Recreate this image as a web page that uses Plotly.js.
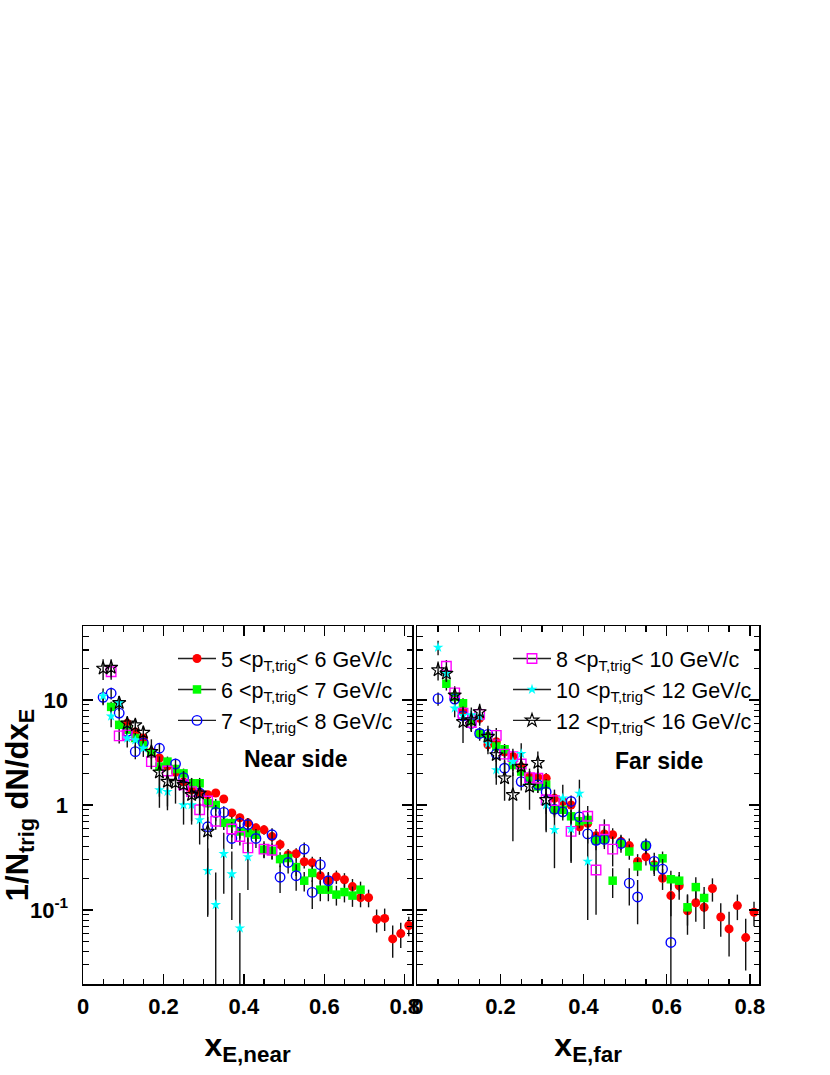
<!DOCTYPE html>
<html><head><meta charset="utf-8">
<script src="https://cdn.plot.ly/plotly-3.0.1.min.js"></script>
<style>html,body{margin:0;padding:0;background:#fff}</style>
</head><body>
<div id="chart" style="width:830px;height:1075px"></div>
<script>
// ---------------- DATA ----------------
const seriesLabels = ['5 &lt;p<sub>T,trig</sub>&lt; 6 GeV/c','6 &lt;p<sub>T,trig</sub>&lt; 7 GeV/c','7 &lt;p<sub>T,trig</sub>&lt; 8 GeV/c',
  '8 &lt;p<sub>T,trig</sub>&lt; 10 GeV/c','10 &lt;p<sub>T,trig</sub>&lt; 12 GeV/c','12 &lt;p<sub>T,trig</sub>&lt; 16 GeV/c'];
const xTickVals = [0,0.2,0.4,0.6,0.8];
const xTickText = ['0','0.2','0.4','0.6','0.8'];
const yTickVals = [0.1,1,10];
const yTickText = ['10<sup>-1</sup>','1','10'];

// Near side
const xRedNear = [0.11,0.13,0.15,0.17,0.19,0.21,0.23,0.25,0.27,0.29,0.31,0.33,0.35,0.37,0.39,0.41,0.43,0.45,0.47,0.49,0.51,0.53,0.55,0.57,0.59,0.61,0.63,0.65,0.67,0.69,0.71,0.73,0.75,0.77,0.79,0.81];
const yRedNear = [6.0,4.96,4.35,3.2,2.8,2.35,2.05,1.66,1.39,1.30,1.25,1.30,1.14,0.84,0.755,0.676,0.606,0.58,0.50,0.42,0.336,0.343,0.288,0.282,0.212,0.19,0.207,0.194,0.167,0.131,0.131,0.081,0.083,0.053,0.0595,0.071];
const eRedNear = [0.5,0.4,0.35,0.25,0.2,0.18,0.15,0.12,0.1,0.1,0.1,0.1,0.09,0.07,0.07,0.06,0.06,0.06,0.05,0.05,0.045,0.045,0.04,0.04,0.035,0.035,0.03,0.03,0.03,0.025,0.025,0.02,0.02,0.018,0.016,0.015];

const xGreenNear = [0.07,0.09,0.11,0.13,0.15,0.17,0.19,0.21,0.23,0.25,0.27,0.29,0.31,0.33,0.35,0.37,0.39,0.41,0.43,0.45,0.47,0.49,0.51,0.53,0.55,0.57,0.59,0.61,0.63,0.65,0.67,0.69];
const yGreenNear = [8.6,5.8,5.2,4.35,3.7,3.1,2.32,2.59,2.2,2.0,1.61,1.61,1.04,1.0,0.676,0.672,0.559,0.54,0.52,0.375,0.366,0.305,0.312,0.256,0.19,0.225,0.156,0.156,0.14,0.148,0.137,0.156];
const eGreenNear = [1.0,0.6,0.5,0.45,0.4,0.35,0.3,0.3,0.25,0.22,0.2,0.2,0.15,0.14,0.1,0.1,0.08,0.08,0.07,0.06,0.06,0.05,0.05,0.045,0.04,0.04,0.035,0.035,0.03,0.03,0.03,0.03];

const xBlueNear = [0.05,0.07,0.09,0.11,0.13,0.15,0.19,0.23,0.25,0.29,0.31,0.33,0.35,0.37,0.39,0.41,0.43,0.47,0.49,0.51,0.53,0.55,0.57,0.59,0.61];
const yBlueNear = [10.6,11.6,7.5,5.0,3.22,3.9,3.47,2.46,1.82,1.3,0.62,0.85,0.85,0.48,0.67,0.65,0.48,0.52,0.205,0.283,0.212,0.38,0.147,0.27,0.19];
const eBlueNear = [1.5,1.5,1.0,0.7,0.5,0.5,0.4,0.3,0.25,0.2,0.15,0.15,0.12,0.1,0.1,0.1,0.09,0.08,0.06,0.06,0.06,0.06,0.045,0.05,0.04];

const xMagNear = [0.07,0.09,0.11,0.17,0.21,0.25,0.27,0.29,0.31,0.33,0.37,0.39,0.41,0.45,0.47];
const yMagNear = [18.6,4.55,4.64,2.59,2.11,1.56,1.34,0.90,1.09,0.70,0.59,0.50,0.39,0.38,0.37];
const eMagNear = [3,0.7,0.6,0.4,0.3,0.25,0.2,0.15,0.15,0.12,0.1,0.09,0.08,0.07,0.07];

const xCyanNear = [0.05,0.07,0.09,0.11,0.13,0.15,0.19,0.21,0.25,0.27,0.29,0.31,0.33,0.35,0.37,0.39,0.41];
const yCyanNear = [10.9,7.0,9.4,4.32,4.16,3.47,1.39,1.34,1.0,1.0,0.72,0.236,0.112,0.343,0.22,0.067,0.32];
const eCyanNear = [2,1.5,1.5,0.8,0.7,0.6,0.45,0.45,0.35,0.35,0.3,0.15,0.115,0.2,0.14,0.078,0.165];

const xStarNear = [0.05,0.07,0.09,0.11,0.13,0.15,0.17,0.19,0.21,0.23,0.25,0.27,0.29,0.31];
const yStarNear = [20.0,20.4,9.4,6.0,5.78,4.89,3.22,2.05,1.67,1.63,1.56,1.25,1.29,0.56];
const eStarNear = [4.5,4,1.5,0.8,0.8,0.8,1.0,0.85,0.7,0.6,0.55,0.55,0.45,0.47];

// Far side
const xRedFar = [0.11,0.13,0.15,0.17,0.19,0.21,0.23,0.25,0.27,0.29,0.31,0.33,0.35,0.37,0.39,0.41,0.43,0.45,0.47,0.49,0.51,0.53,0.55,0.57,0.59,0.61,0.63,0.65,0.67,0.69,0.71,0.73,0.75,0.77,0.79,0.81];
const yRedFar = [8.0,6.3,6.7,3.75,4.0,3.2,2.9,2.3,1.86,1.84,1.80,1.16,1.08,1.0,0.62,0.67,0.51,0.53,0.52,0.45,0.41,0.29,0.32,0.27,0.20,0.137,0.17,0.098,0.117,0.106,0.16,0.0856,0.066,0.11,0.0545,0.095];
const eRedFar = [1.0,0.8,0.8,0.5,0.5,0.4,0.35,0.3,0.25,0.25,0.22,0.15,0.15,0.14,0.1,0.1,0.08,0.08,0.08,0.07,0.07,0.05,0.055,0.05,0.045,0.05,0.045,0.04,0.04,0.04,0.04,0.03,0.03,0.03,0.028,0.025];

const xGreenFar = [0.07,0.09,0.11,0.13,0.15,0.17,0.19,0.21,0.23,0.25,0.27,0.29,0.31,0.33,0.35,0.37,0.39,0.41,0.43,0.45,0.47,0.49,0.51,0.53,0.55,0.57,0.59,0.61,0.63,0.65,0.67,0.69];
const yGreenFar = [14.3,10.7,9.3,6.3,4.8,4.5,3.6,3.4,2.4,2.08,1.7,1.5,1.56,0.91,0.90,0.78,0.70,0.72,0.46,0.47,0.19,0.43,0.36,0.26,0.41,0.26,0.31,0.196,0.19,0.106,0.165,0.13];
const eGreenFar = [2,1.4,1.1,0.8,0.6,0.55,0.45,0.4,0.3,0.25,0.22,0.2,0.2,0.13,0.13,0.11,0.1,0.1,0.07,0.07,0.06,0.06,0.06,0.05,0.06,0.05,0.05,0.04,0.04,0.035,0.04,0.035];

const xBlueFar = [0.05,0.09,0.11,0.13,0.15,0.17,0.19,0.21,0.25,0.29,0.31,0.33,0.35,0.37,0.39,0.41,0.43,0.45,0.49,0.51,0.53,0.55,0.57,0.59,0.61];
const yBlueFar = [10.3,10.2,7.04,6.0,4.8,4.7,3.07,2.24,1.67,1.56,1.33,0.91,0.86,1.08,0.77,0.53,0.46,0.47,0.43,0.18,0.133,0.41,0.29,0.245,0.049];
const eBlueFar = [1.5,1.4,1.0,0.9,0.7,0.65,0.5,0.4,0.3,0.25,0.22,0.15,0.15,0.15,0.12,0.1,0.09,0.09,0.08,0.07,0.06,0.07,0.06,0.06,0.1];

const xMagFar = [0.07,0.09,0.11,0.13,0.15,0.19,0.21,0.23,0.25,0.27,0.29,0.31,0.33,0.37,0.41,0.43,0.45,0.47];
const yMagFar = [21,11.7,7.47,6.1,7.3,4.6,3.05,2.89,2.46,1.82,1.80,1.12,1.1,0.56,0.78,0.24,0.58,0.38];
const eMagFar = [3,1.8,1.2,1.0,1.1,0.8,0.6,0.55,0.5,0.4,0.4,0.3,0.3,0.28,0.2,0.15,0.15,0.12];

const xCyanFar = [0.05,0.07,0.09,0.11,0.13,0.15,0.17,0.19,0.23,0.25,0.31,0.33,0.35,0.37,0.39,0.41];
const yCyanFar = [31.7,17.9,8.35,7.1,7.2,7.0,3.85,2.16,2.59,3.07,1.0,0.58,1.16,0.59,1.29,0.29];
const eCyanFar = [5,3,1.5,1.3,1.3,1.3,0.8,0.6,0.7,0.8,0.45,0.33,0.4,0.3,0.45,0.21];

const xStarFar = [0.05,0.07,0.09,0.11,0.13,0.15,0.17,0.19,0.21,0.23,0.25,0.27,0.29,0.31];
const yStarFar = [19.3,17.9,11.1,6.2,6.45,7.7,4.48,3.0,1.80,1.25,2.32,1.50,2.53,1.12];
const eStarFar = [4,3,2,2.3,1.5,1.5,1.2,1.2,0.7,0.8,0.8,0.6,0.7,0.55];

// ---------------- STYLES ----------------
const markerStyles = [
  {symbol:'circle', size:9, color:'#ff0000'},
  {symbol:'square', size:8.5, color:'#00ff00'},
  {symbol:'circle-open', size:9.5, color:'#0000ff', line:{width:1.4, color:'#0000ff'}},
  {symbol:'square-open', size:9.5, color:'#ff00ff', line:{width:1.4, color:'#ff00ff'}},
  {symbol:'star', size:8, color:'#00ffff', line:{width:0}},
  {symbol:'star-open', size:10, color:'#000000', line:{width:1.2, color:'#000000'}}
];
const FONT = 'Liberation Sans, Arial, Helvetica, sans-serif';

const nearSets = [[xRedNear,yRedNear,eRedNear],[xGreenNear,yGreenNear,eGreenNear],[xBlueNear,yBlueNear,eBlueNear],
  [xMagNear,yMagNear,eMagNear],[xCyanNear,yCyanNear,eCyanNear],[xStarNear,yStarNear,eStarNear]];
const farSets = [[xRedFar,yRedFar,eRedFar],[xGreenFar,yGreenFar,eGreenFar],[xBlueFar,yBlueFar,eBlueFar],
  [xMagFar,yMagFar,eMagFar],[xCyanFar,yCyanFar,eCyanFar],[xStarFar,yStarFar,eStarFar]];

const traces = [];
function addSet(sets, xa, ya) {
  sets.forEach((s, i) => {
    traces.push({
      type:'scatter', mode:'markers', x:s[0], y:s[1], xaxis:xa, yaxis:ya,
      marker: markerStyles[i], showlegend:false, hoverinfo:'skip',
      error_y:{type:'data', array:s[2], visible:true, color:'#111', thickness:1.4, width:0}
    });
  });
}
addSet(nearSets, 'x', 'y');
addSet(farSets, 'x2', 'y2');

// legend entries (line + marker, as in the ROOT legend)
seriesLabels.forEach((lab, i) => {
  traces.push({
    type:'scatter', mode:'lines+markers', x:[null], y:[null],
    xaxis: i < 3 ? 'x' : 'x2', yaxis: i < 3 ? 'y' : 'y2',
    name: lab, legend: i < 3 ? 'legend' : 'legend2',
    line:{color:'#222', width:1.4}, marker: markerStyles[i], showlegend:true
  });
});

const minorY = [0.02,0.03,0.04,0.05,0.06,0.07,0.08,0.09,0.2,0.3,0.4,0.5,0.6,0.7,0.8,0.9,2,3,4,5,6,7,8,9,20,30,40,50];
const minorX = [0.05,0.1,0.15,0.25,0.3,0.35,0.45,0.5,0.55,0.65,0.7,0.75];
const tickFont = {family:FONT, size:22, color:'#000', weight:'bold'};

function xAxis(dom, rng, title, anchor) {
  return {
    domain: dom, range: rng, anchor: anchor,
    showline:true, linecolor:'#000', linewidth:1.5, mirror:'ticks',
    ticks:'inside', ticklen:10, tickwidth:1.3, tickcolor:'#000',
    tickmode:'array', tickvals:xTickVals, ticktext:xTickText,
    minor:{tickmode:'array', tickvals:minorX, ticks:'inside', ticklen:5.5, tickwidth:1.2, tickcolor:'#000', showgrid:false},
    showgrid:false, zeroline:false, tickfont:tickFont, ticklabelstandoff:2,
    title:{text:title, font:{family:FONT, size:32, color:'#000', weight:'bold'}, standoff:15}
  };
}
function yAxis(anchor, labels) {
  return {
    type:'log', range:[Math.log10(0.0197), Math.log10(50.7)], anchor: anchor, domain:[0,1],
    showline:true, linecolor:'#000', linewidth:1.5, mirror:'ticks',
    ticks:'inside', ticklen:10, tickwidth:1.3, tickcolor:'#000',
    tickmode:'array', tickvals:yTickVals, ticktext:yTickText, showticklabels:labels,
    minor:{tickmode:'array', tickvals:minorY, ticks:'inside', ticklen:5.5, tickwidth:1.2, tickcolor:'#000', showgrid:false},
    showgrid:false, zeroline:false, tickfont:tickFont, ticklabelstandoff:9
  };
}

const layout = {
  width:830, height:1075,
  margin:{l:83, r:71, t:626, b:91, pad:0},
  paper_bgcolor:'#fff', plot_bgcolor:'#fff',
  font:{family:FONT, color:'#000'},
  xaxis: xAxis([0, 0.4867], [0, 0.818], 'x<sub>E,near</sub>', 'y'),
  xaxis2: xAxis([0.4945, 1], [0, 0.822], 'x<sub>E,far</sub>', 'y2'),
  yaxis: Object.assign(yAxis('x', true), {
    title:{text:'1/N<sub>trig</sub> dN/dx<sub>E</sub>', font:{family:FONT, size:31, color:'#000', weight:'bold'}, standoff:2}
  }),
  yaxis2: yAxis('x2', false),
  legend:{x:(173-83)/676, xanchor:'left', y:(984-638)/358, yanchor:'top',
    font:{family:FONT, size:21.5, color:'#000'}, bgcolor:'rgba(0,0,0,0)', borderwidth:0, itemwidth:38, tracegroupgap:0},
  legend2:{x:(508-83)/676, xanchor:'left', y:(984-638)/358, yanchor:'top',
    font:{family:FONT, size:21.5, color:'#000'}, bgcolor:'rgba(0,0,0,0)', borderwidth:0, itemwidth:38, tracegroupgap:0},
  annotations:[
    {text:'Near side', xref:'paper', yref:'paper', x:(296-83)/676, y:(984-759)/358, xanchor:'center', yanchor:'middle',
     showarrow:false, font:{family:FONT, size:23, color:'#000', weight:'bold'}},
    {text:'Far side', xref:'paper', yref:'paper', x:(659-83)/676, y:(984-761)/358, xanchor:'center', yanchor:'middle',
     showarrow:false, font:{family:FONT, size:23, color:'#000', weight:'bold'}}
  ]
};

Plotly.newPlot('chart', traces, layout, {staticPlot:true, displayModeBar:false});
</script>
</body></html>
